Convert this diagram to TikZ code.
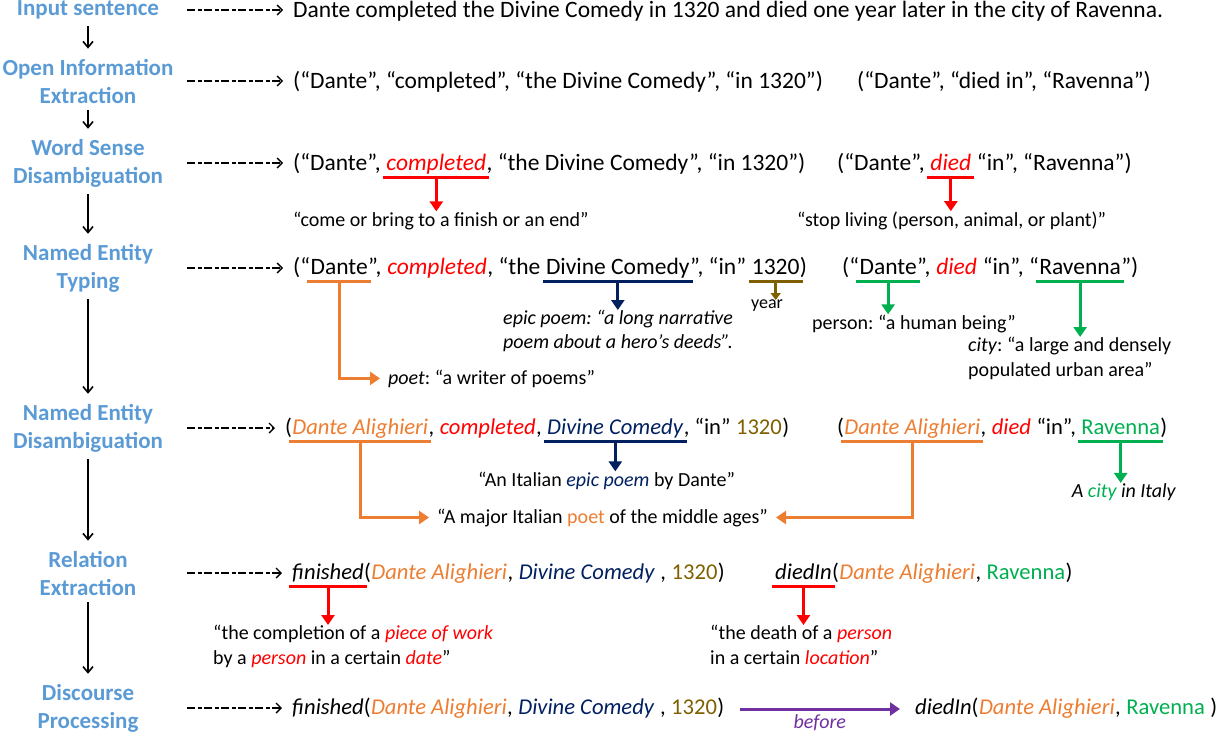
\documentclass[tikz,border=0pt]{standalone}
\usepackage{fontspec}
\setmainfont{Carlito}
\usetikzlibrary{arrows.meta,positioning}
\definecolor{bleuetape}{RGB}{91,155,213}
\definecolor{crouge}{RGB}{255,0,0}
\definecolor{corange}{RGB}{237,125,49}
\definecolor{cmarine}{RGB}{0,32,96}
\definecolor{cvert}{RGB}{0,176,80}
\definecolor{cbrun}{RGB}{127,96,0}
\definecolor{cviolet}{RGB}{112,48,160}
\frenchspacing
\begin{document}
\begin{tikzpicture}[x=1pt,y=-1pt]
	\tikzstyle{etape}=[font=\fontsize{23}{28}\selectfont\bfseries,text=bleuetape,align=center,inner sep=0pt]
	\tikzstyle{texte}=[font=\fontsize{23.5}{28}\selectfont,inner sep=0pt,anchor=base west,text height=17pt,text depth=7pt]
	\tikzstyle{texteb}=[texte,font=\fontsize{22.6}{28}\selectfont]
	\tikzstyle{note}=[font=\fontsize{20}{25}\selectfont,inner sep=0pt,align=left]
	\tikzstyle{descente}=[-{Straight Barb[length=6pt,width=10pt]},line width=1.6pt,shorten <=7pt,shorten >=10pt]
	\tikzstyle{pointille}=[-{Straight Barb[length=5pt,width=10pt]},line width=1.4pt,dash pattern=on 8pt off 2.5pt on 4pt off 2.5pt,shorten >=10pt]
	\tikzstyle{barre}=[line width=3pt,shorten <=-3pt,shorten >=-3pt]
	\tikzstyle{fleche}=[-{Triangle[length=10pt,width=13pt]},line width=3pt]
	\def\Colonne{88}
	\def\DebutPointille{187}
	\def\Rouge#1{\textcolor{crouge}{\textit{#1}}}
	\def\esp{~\null}
	\useasboundingbox (0,0) rectangle (1222,736);
	\coordinate (D) at (\DebutPointille,0);
	\node[etape] (Et1) at (\Colonne,10) {Input sentence};
	\node[etape] (Et2) at (\Colonne,81) {Open Information\\Extraction};
	\node[etape] (Et3) at (\Colonne,163) {Word Sense\\Disambiguation};
	\node[etape] (Et4) at (\Colonne,268) {Named Entity\\Typing};
	\node[etape] (Et5) at (\Colonne,428) {Named Entity\\Disambiguation};
	\node[etape] (Et6) at (\Colonne,573) {Relation\\Extraction};
	\node[etape] (Et7) at (\Colonne,708) {Discourse\\Processing};
	\draw[descente] (Et1) -- (Et2);
	\draw[descente] (Et2) -- (Et3);
	\draw[descente] (Et3) -- (Et4);
	\draw[descente] (Et4) -- (Et5);
	\draw[descente] (Et5) -- (Et6);
	\draw[descente] (Et6) -- (Et7);
	% phrase
	\node[texte] (a1) at (293,17) {Dante completed the Divine Comedy in 1320 and died one year later in the city of Ravenna.};
	% open IE
	\node[texte] (a2) at (293,88) {(“Dante”, “completed”, “the Divine Comedy”, “in 1320”)};
	\node[texte] (j2) at (857,88) {(“Dante”, “died in”, “Ravenna”)};
	% WSD
	\node[texte] (a3) at (293,170) {(“Dante”,\esp};
	\node[texte,text=crouge] (b3) at (a3.base east) {\textit{completed}};
	\node[texte] (c3) at (b3.base east) {, “the Divine Comedy”, “in 1320”)};
	\node[texte] (j3) at (837,170) {(“Dante”,\esp};
	\node[texte,text=crouge] (k3) at (j3.base east) {\textit{died}};
	\node[texte] (l3) at (k3.base east) {~“in”, “Ravenna”)};
	\node[note,anchor=base west] (n3a) at (293,226) {“come or bring to a finish or an end”};
	\node[note,anchor=base west] (n3b) at (797,226) {“stop living (person, animal, or plant)”};
	\draw[barre,crouge] (b3.south west) -- (b3.south east);
	\draw[barre,crouge] (k3.south west) -- (k3.south east);
	\draw[fleche,crouge] (b3.south) -- (b3.south |- n3a.north);
	\draw[fleche,crouge] (k3.south) -- (k3.south |- n3b.north);
	% NET
	\node[texte] (a4) at (293,274) {(“};
	\node[texte] (b4) at (a4.base east) {Dante};
	\node[texte] (c4) at (b4.base east) {”,\esp};
	\node[texte,text=crouge] (d4) at (c4.base east) {\textit{completed}};
	\node[texte] (e4) at (d4.base east) {, “the\esp};
	\node[texte] (f4) at (e4.base east) {Divine Comedy};
	\node[texte] (g4) at (f4.base east) {”, “in"\esp};
	\node[texte] (h4) at (g4.base east) {1320};
	\node[texte] (i4) at (h4.base east) {)};
	\node[texte] (j4) at (842,274) {(“};
	\node[texte] (k4) at (j4.base east) {Dante};
	\node[texte] (l4) at (k4.base east) {”,\esp};
	\node[texte,text=crouge] (m4) at (l4.base east) {\textit{died}};
	\node[texte] (o4) at (m4.base east) {~“in”, “};
	\node[texte] (p4) at (o4.base east) {Ravenna};
	\node[texte] (q4) at (p4.base east) {”)};
	\node[note,anchor=base west] (n4a) at (388,384) {\textit{poet}: “a writer of poems”};
	\node[note,anchor=north west,font=\fontsize{20}{24}\selectfont\itshape] (n4b) at (503,310) {epic poem: “a long narrative\\poem about a hero’s deeds”.};
	\node[note,anchor=north,font=\fontsize{18}{22}\selectfont] (n4c) at (767,300) {year};
	\node[note,anchor=base west] (n4d) at (812,329) {person: “a human being”};
	\node[note,anchor=north west] (n4e) at (968,337) {\textit{city}: “a large and densely\\populated urban area”};
	\draw[barre,corange] (b4.south west) -- (b4.south east);
	\draw[barre,cmarine] (f4.south west) -- (f4.south east);
	\draw[barre,cbrun] (h4.south west) -- (h4.south east);
	\draw[barre,cvert] (k4.south west) -- (k4.south east);
	\draw[barre,cvert] (p4.south west) -- (p4.south east);
	\draw[fleche,corange,shorten >=8pt] (b4.south) |- (n4a.west);
	\draw[fleche,cmarine] (f4.south) -- (f4.south |- n4b.north);
	\draw[fleche,cbrun,line width=2.4pt,-{Triangle[length=7pt,width=10pt]}] (h4.south) -- (h4.south |- n4c.north);
	\draw[fleche,cvert] (k4.south) -- (k4.south |- n4d.north);
	\draw[fleche,cvert] (p4.south) -- (p4.south |- n4e.north);
	% NED
	\node[texteb] (a5) at (285,434) {(};
	\node[texteb,text=corange] (b5) at (a5.base east) {\textit{Dante Alighieri}};
	\node[texteb] (c5) at (b5.base east) {,\esp};
	\node[texteb,text=crouge] (d5) at (c5.base east) {\textit{completed}};
	\node[texteb] (e5) at (d5.base east) {,\esp};
	\node[texteb,text=cmarine] (f5) at (e5.base east) {\textit{Divine Comedy}};
	\node[texteb] (g5) at (f5.base east) {, “in”\esp};
	\node[texteb,text=cbrun] (h5) at (g5.base east) {1320};
	\node[texteb] (i5) at (h5.base east) {)};
	\node[texteb] (j5) at (837,434) {(};
	\node[texteb,text=corange] (k5) at (j5.base east) {\textit{Dante Alighieri}};
	\node[texteb] (l5) at (k5.base east) {,\esp};
	\node[texteb,text=crouge] (m5) at (l5.base east) {\textit{died}};
	\node[texteb] (o5) at (m5.base east) {~“in”,\esp};
	\node[texteb,text=cvert] (p5) at (o5.base east) {Ravenna};
	\node[texteb] (q5) at (p5.base east) {)};
	\node[note,anchor=base west] (n5a) at (478,486) {“An Italian \textcolor{cmarine}{\textit{epic poem}} by Dante”};
	\node[note,anchor=base west] (n5b) at (437,523) {“A major Italian \textcolor{corange}{poet} of the middle ages”};
	\node[note,anchor=base] (n5c) at (1124,497) {\textit{A \textcolor{cvert}{city} in Italy}};
	\draw[barre,corange] (b5.south west) -- (b5.south east);
	\draw[barre,cmarine] (f5.south west) -- (f5.south east);
	\draw[barre,corange] (k5.south west) -- (k5.south east);
	\draw[barre,cvert] (p5.south west) -- (p5.south east);
	\draw[fleche,cmarine] (f5.south) -- (f5.south |- n5a.north);
	\draw[fleche,corange,shorten >=8pt] (b5.south) |- (n5b.west);
	\draw[fleche,corange,shorten >=8pt] (k5.south) |- (n5b.east);
	\draw[fleche,cvert] (p5.south) -- (p5.south |- n5c.north);
	% RE
	\node[texteb] (a6) at (292,579) {\textit{finished}};
	\node[texteb] (b6) at (a6.base east) {(};
	\node[texteb,text=corange] (c6) at (b6.base east) {\textit{Dante Alighieri}};
	\node[texteb] (d6) at (c6.base east) {,\esp};
	\node[texteb,text=cmarine] (e6) at (d6.base east) {\textit{Divine Comedy}\esp};
	\node[texteb] (f6) at (e6.base east) {,\esp};
	\node[texteb,text=cbrun] (g6) at (f6.base east) {1320};
	\node[texteb] (h6) at (g6.base east) {)};
	\node[texteb] (j6) at (775,579) {\textit{diedIn}};
	\node[texteb] (k6) at (j6.base east) {(};
	\node[texteb,text=corange] (l6) at (k6.base east) {\textit{Dante Alighieri}};
	\node[texteb] (m6) at (l6.base east) {,\esp};
	\node[texteb,text=cvert] (o6) at (m6.base east) {Ravenna};
	\node[texteb] (p6) at (o6.base east) {)};
	\node[note,anchor=north west] (n6a) at (213,625) {“the completion of a \Rouge{piece of work}\\by a \Rouge{person} in a certain \Rouge{date}”};
	\node[note,anchor=north west] (n6b) at (710,625) {“the death of a \Rouge{person}\\in a certain \Rouge{location}”};
	\draw[barre,crouge] (a6.south west) -- (a6.south east);
	\draw[barre,crouge] (j6.south west) -- (j6.south east);
	\draw[fleche,crouge] (a6.south) -- (a6.south |- n6a.north);
	\draw[fleche,crouge] (j6.south) -- (j6.south |- n6b.north);
	% DP
	\node[texteb] (a7) at (292,714) {\textit{finished}(};
	\node[texteb,text=corange] (b7) at (a7.base east) {\textit{Dante Alighieri}};
	\node[texteb] (c7) at (b7.base east) {,\esp};
	\node[texteb,text=cmarine] (d7) at (c7.base east) {\textit{Divine Comedy}\esp};
	\node[texteb] (e7) at (d7.base east) {,\esp};
	\node[texteb,text=cbrun] (f7) at (e7.base east) {1320};
	\node[texteb] (g7) at (f7.base east) {)};
	\node[texteb] (j7) at (915,714) {\textit{diedIn}(};
	\node[texteb,text=corange] (k7) at (j7.base east) {\textit{Dante Alighieri}};
	\node[texteb] (l7) at (k7.base east) {,\esp};
	\node[texteb,text=cvert] (m7) at (l7.base east) {Ravenna\esp};
	\node[texteb] (o7) at (m7.base east) {)};
	\draw[fleche,cviolet,line width=3pt,shorten <=16pt,shorten >=15pt] (g7.east) -- (j7.west) node[midway,below=4pt,note,text=cviolet] {\textit{before}};
	% pointilles
	\draw[pointille] (D |- Et1) -- (a1.west |- Et1);
	\draw[pointille] (D |- Et2) -- (a2.west |- Et2);
	\draw[pointille] (D |- Et3) -- (a3.west |- Et3);
	\draw[pointille] (D |- Et4) -- (a4.west |- Et4);
	\draw[pointille] (D |- Et5) -- (a5.west |- Et5);
	\draw[pointille] (D |- Et6) -- (a6.west |- Et6);
	\draw[pointille] (D |- Et7) -- (a7.west |- Et7);
\end{tikzpicture}
\end{document}
